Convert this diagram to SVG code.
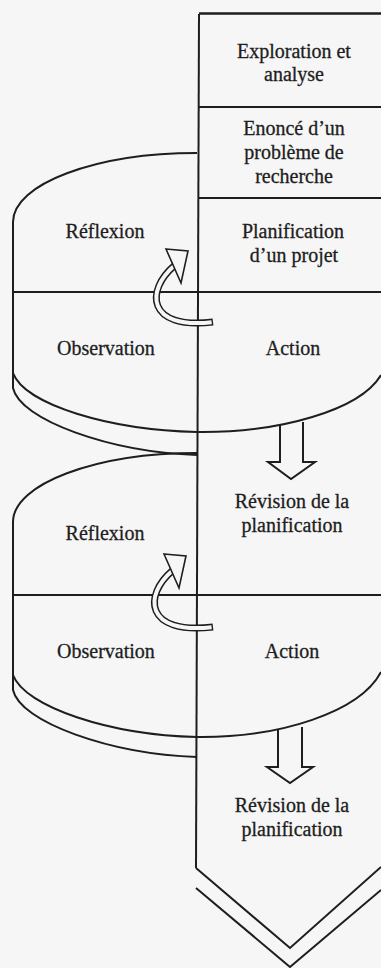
<svg xmlns="http://www.w3.org/2000/svg" width="381" height="968" viewBox="0 0 381 968">
<style>
.ln{fill:none;stroke:#1e1e1e;stroke-width:2}
.t{font-family:'Liberation Serif','Times New Roman',serif;font-size:20px;fill:#1e1e1e;stroke:#1e1e1e;stroke-width:0.3;text-anchor:middle}
.sh{fill:none;stroke:#1e1e1e;stroke-width:7}
.shi{fill:none;stroke:#f6f6f6;stroke-width:4}
.hd{fill:#f6f6f6;stroke:#1e1e1e;stroke-width:1.6;stroke-linejoin:miter}
</style>
<rect width="381" height="968" fill="#f6f6f6"/>
<g id="banner">
<path class="ln" d="M199,13.5 H381" style="stroke-width:2.5"/>
<path class="ln" d="M199,14 L196,868"/>
<path class="ln" d="M199,107 H381"/>
<path class="ln" d="M199,198 H381"/>
<path class="ln" d="M196,868 L290,948 L381,867"/>
<path class="ln" d="M196,888 L290,967 L381,890"/>
</g>
<g id="cycle1">
<path class="ln" d="M197,153 C95.4,153 13,184 13,222 L13,373"/>
<path class="ln" d="M13,373 C25,405 110,430 197,432 C280,433 360,410 381,375"/>
<path class="ln" d="M13,373 L13,388 C20,420 110,452 197,455"/>
<path class="ln" d="M13,292 H381"/>
</g>
<g id="cycle2">
<path class="ln" d="M197,453 C95.4,453 13,484 13,522 L13,675"/>
<path class="ln" d="M13,675 C25,707 110,735 197,737 C280,738 360,712 381,672"/>
<path class="ln" d="M13,675 L13,690 C20,722 110,754 197,757"/>
<path class="ln" d="M13,595 H381"/>
</g>
<g id="n-exploration"><text class="t" x="294" y="58">Exploration et</text><text class="t" x="294" y="81">analyse</text></g>
<g id="n-enonce"><text class="t" x="294" y="135">Enoncé d’un</text><text class="t" x="294" y="159">problème de</text><text class="t" x="294" y="183">recherche</text></g>
<g id="n-reflexion1"><text class="t" x="105" y="238">Réflexion</text></g>
<g id="n-planification"><text class="t" x="293" y="238">Planification</text><text class="t" x="294" y="262">d’un projet</text></g>
<g id="n-observation1"><text class="t" x="106" y="355">Observation</text></g>
<g id="n-action1"><text class="t" x="293" y="355">Action</text></g>
<g id="n-revision1"><text class="t" x="292" y="508">Révision de la</text><text class="t" x="292" y="532">planification</text></g>
<g id="n-reflexion2"><text class="t" x="105" y="540">Réflexion</text></g>
<g id="n-observation2"><text class="t" x="106" y="658">Observation</text></g>
<g id="n-action2"><text class="t" x="292" y="658">Action</text></g>
<g id="n-revision2"><text class="t" x="292" y="812">Révision de la</text><text class="t" x="292" y="836">planification</text></g>
<g id="connectors">
<path class="ln" d="M280,425 V462 H268 L291,479 L315,462 H303 V422"/>
<path class="ln" d="M278,730 V767 H267 L290,783 L313,767 H302 V727"/>
<path class="sh" d="M174,266 C146,290 146,330 213,322"/>
<path class="shi" pathLength="100" stroke-dasharray="98.8 5" d="M174,266 C146,290 146,330 213,322"/>
<polygon class="hd" points="166,249 188,251 181,283"/>
<path class="sh" d="M172,571 C144,595 144,635 213,627"/>
<path class="shi" pathLength="100" stroke-dasharray="98.8 5" d="M172,571 C144,595 144,635 213,627"/>
<polygon class="hd" points="164,554 186,556 179,588"/>
</g>
</svg>
